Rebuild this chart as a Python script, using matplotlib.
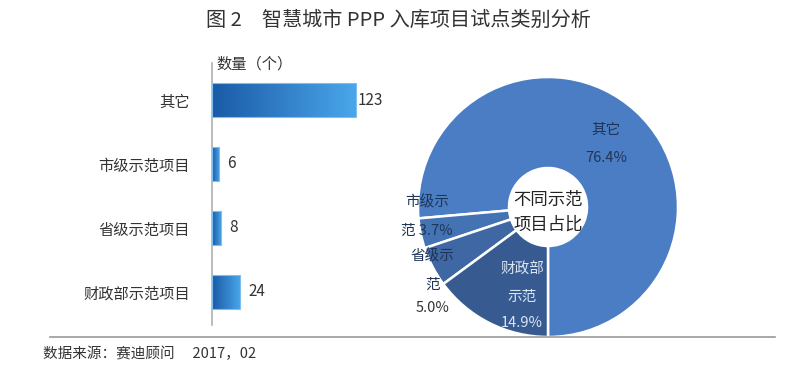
import matplotlib.pyplot as plt
import numpy as np
from matplotlib.colors import LinearSegmentedColormap

plt.rcParams['font.family'] = ['Noto Sans CJK SC', 'DejaVu Sans']

categories = ['其它', '市级示范项目', '省级示范项目', '财政部示范项目']
counts = [123, 6, 8, 24]

pie_labels = ['其它', '市级示\n范', '省级示\n范', '财政部\n示范']
pie_values = [123, 6, 8, 24]
pie_colors = ['#4a7dc4', '#4473b3', '#3e67a4', '#375b91']

W, H = 800, 376
fig = plt.figure(figsize=(8, 3.76), dpi=100)


def fx(px):
    return px / W


def fy(py):
    return 1 - py / H


# title and footer
fig.text(fx(398), fy(20), '图 2\u3000智慧城市 PPP 入库项目试点类别分析', ha='center', va='center',
         fontsize=14.5, color='#333333')
fig.text(fx(43), fy(354), '数据来源：赛迪顾问\u3000 2017，02', ha='left', va='center',
         fontsize=10.5, color='#333333')
fig.add_artist(plt.Line2D([fx(50), fx(775)], [fy(337), fy(337)], color='#9a9a9a', lw=1.2))

# ---- bar chart ----
ax = fig.add_axes([fx(212), fy(325), fx(180), (325 - 63) / H])
y = np.arange(len(categories))
bars = ax.barh(y, counts, height=0.53, color='none', edgecolor='#7fbff0', lw=0.8, zorder=3)
cmap = LinearSegmentedColormap.from_list('bluegrad', ['#1a5aa6', '#4aa6ea'])
grad = np.linspace(0, 1, 256).reshape(1, -1)
for b, v in zip(bars, counts):
    x0, y0 = b.get_x(), b.get_y()
    im = ax.imshow(grad, cmap=cmap, aspect='auto', zorder=2,
                   extent=[x0, x0 + b.get_width(), y0 + b.get_height(), y0])
    im.set_clip_path(b)
    ax.text(v + (1.5 if v > 50 else 7), b.get_y() + b.get_height() / 2, str(v),
            va='center', ha='left', fontsize=11, color='#333333')
ax.set_xlim(0, 154)
ax.set_ylim(3.52, -0.58)
ax.set_yticks(y)
ax.set_yticklabels(categories, fontsize=11, color='#333333')
ax.tick_params(axis='y', length=0, pad=16)
ax.set_xticks([])
for s in ['top', 'right', 'bottom']:
    ax.spines[s].set_visible(False)
ax.spines['left'].set_color('#b0b0b0')
ax.spines['left'].set_linewidth(1.2)
fig.text(fx(216), fy(64), '数量（个）', ha='left', va='center', fontsize=11, color='#333333')

# ---- donut ----
pax = fig.add_axes([fx(548 - 143), fy(207 + 143), fx(286), 286 / H])
wedges, _ = pax.pie(pie_values, colors=pie_colors, startangle=-90, counterclock=True,
                    radius=1, wedgeprops=dict(width=0.7, edgecolor='white', linewidth=1.8))
pax.set_xlim(-1.1, 1.1)
pax.set_ylim(-1.1, 1.1)
pax.set_aspect('equal')
pax.axis('off')

total = sum(pie_values)
pct = [v / total * 100 for v in pie_values]
dark = '#1f3558'
fs = 10.5
pax.text(0.45, 0.59, pie_labels[0], ha='center', va='center', fontsize=fs, color=dark)
pax.text(0.45, 0.38, f'{pct[0]:.1f}%', ha='center', va='center', fontsize=fs, color=dark)
pax.text(-0.93, 0.04, '市级示', ha='center', va='center', fontsize=fs, color=dark)
pax.text(-0.93, -0.18, f'范 {pct[1]:.1f}%', ha='center', va='center', fontsize=fs, color=dark)
pax.text(-0.89, -0.38, '省级示', ha='center', va='center', fontsize=fs, color=dark)
pax.text(-0.89, -0.60, '范', ha='center', va='center', fontsize=fs, color=dark)
pax.text(-0.89, -0.78, f'{pct[2]:.1f}%', ha='center', va='center', fontsize=fs, color='#333333')
light = '#dbe5f3'
pax.text(-0.2, -0.48, '财政部', ha='center', va='center', fontsize=fs, color=light)
pax.text(-0.2, -0.69, '示范', ha='center', va='center', fontsize=fs, color=light)
pax.text(-0.2, -0.89, f'{pct[3]:.1f}%', ha='center', va='center', fontsize=fs, color=light)
pax.text(0, -0.04, '不同示范\n项目占比', ha='center', va='center', fontsize=12.5,
         color='#222222', linespacing=1.45)

fig.savefig('out.png', dpi=100, facecolor='white')
